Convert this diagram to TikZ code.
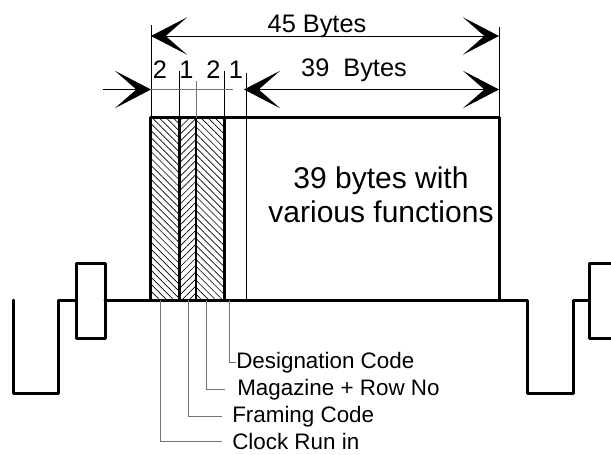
\documentclass[tikz,border=0pt]{standalone}
\usepackage{fontspec}
\setmainfont{Liberation Sans}
\usetikzlibrary{arrows.meta,patterns.meta}

\begin{document}
\begin{tikzpicture}[x=0.75pt, y=-0.75pt,
    heavy/.style={line width=2.25pt, line join=round, line cap=round},
    dim/.style={line width=0.75pt},
    leader/.style={line width=0.75pt, black!55},
    dimtip/.style={-{Stealth[length=27pt, width=28pt, inset=16pt]}},
    dimtips/.style={{Stealth[length=27pt, width=28pt, inset=16pt]}-{Stealth[length=27pt, width=28pt, inset=16pt]}},
    toplabel/.style={font=\fontsize{19}{21}\selectfont, inner sep=0pt, anchor=base},
    codelabel/.style={font=\fontsize{16.8}{18}\selectfont, inner ysep=0pt, anchor=base west},
    boxtext/.style={font=\fontsize{22.5}{25.5}\selectfont, align=center, inner sep=0pt},
    hatchl/.style={pattern={Lines[angle=-45, distance=3.7pt, line width=0.5pt]}},
    hatchr/.style={pattern={Lines[angle=45, distance=3.7pt, line width=0.5pt]}}]
    \useasboundingbox (0,0) rectangle (611,454);

    % hatched code bytes
    \fill [hatchl] (150,117.5) rectangle (179.5,300);
    \fill [hatchr] (179.5,117.5) rectangle (196,300);
    \fill [hatchl] (196,117.5) rectangle (224,300);

    % frame of the packet
    \draw [heavy] (150,300) -- (150,117.5) -- (499,117.5) -- (499,300);
    \draw [heavy] (179.5,117.5) -- (179.5,300);
    \draw [line width=1.6pt] (196,117.5) -- (196,300);
    \draw [heavy] (224,117.5) -- (224,300);
    \draw [dim] (246,73) -- (246,300);

    % signal line with pulses
    \draw [heavy] (13,300) -- (13,393) -- (58,393) -- (58,300) -- (76,300);
    \draw [heavy] (76,263) rectangle (105,338);
    \draw [heavy] (105,300) -- (527,300) -- (527,393) -- (573,393) -- (573,300) -- (589,300);
    \draw [heavy] (625,263) -- (589,263) -- (589,338) -- (625,338);

    % extension lines
    \draw [dim] (151,25) -- (151,117.5);
    \draw [dim] (499,27) -- (499,117.5);
    \draw [dim] (179,71) -- (179,117.5);
    \draw [leader] (196,81) -- (196,117.5);
    \draw [dim] (224,71) -- (224,117.5);

    % dimensions
    \coordinate (w45) at (151,36);
    \coordinate (e45) at (499,36);
    \coordinate (w39) at (244,89.5);
    \coordinate (e39) at (499,89.5);
    \coordinate (in) at (103,89.5);
    \coordinate (start) at (151,89.5);
    \coordinate (stop) at (233,89.5);
    \draw [dim, dimtips] (w45) -- (e45);
    \draw [dim, dimtips] (w39) -- (e39);
    \draw [dim, dimtip] (in) -- (start);
    \draw [leader] (start) -- (stop);

    \node [toplabel] (all) at (317,32) {45 Bytes};
    \node [toplabel] (data) at (354,76) {39\ \ Bytes};
    \node [toplabel] (crilen) at (160,78) {2};
    \node [toplabel] (fclen) at (186.5,78) {1};
    \node [toplabel] (mrlen) at (213.5,78) {2};
    \node [toplabel] (dclen) at (236,78) {1};

    \node [boxtext] (payload) at (381,195) {39 bytes with\\various functions};

    % code labels
    \node [codelabel, inner xsep=0pt] (dc) at (236,368) {Designation Code};
    \node [codelabel, inner xsep=9pt] (mr) at (225,395) {Magazine + Row No};
    \node [codelabel, inner xsep=7.5pt] (fc) at (222,422) {Framing Code};
    \node [codelabel, inner xsep=7.5pt] (cri) at (222,449) {Clock Run in};
    \draw [leader] (229,300) |- (dc.west);
    \draw [leader] (206,300) |- (mr.west);
    \draw [leader] (188,300) |- (fc.west);
    \draw [leader] (160,300) |- (cri.west);

\end{tikzpicture}
\end{document}
